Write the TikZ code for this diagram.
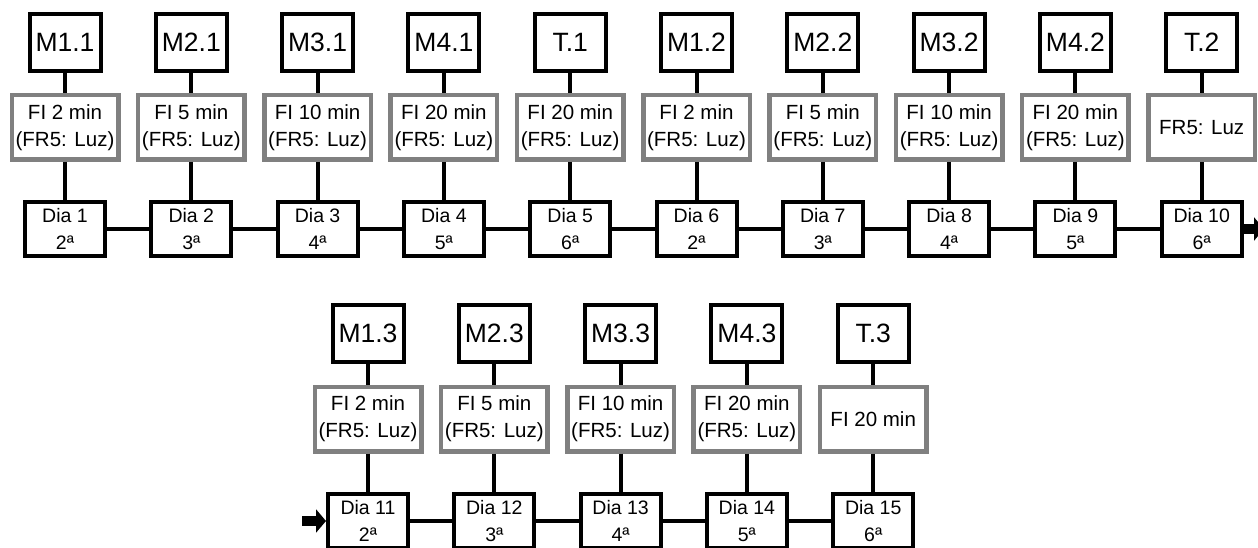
\documentclass[tikz,border=0pt]{standalone}
\usepackage{fontspec}
\setmainfont{Liberation Sans}
\usetikzlibrary{arrows.meta}
\definecolor{gborder}{RGB}{128,128,128}
\begin{document}
\begin{tikzpicture}[x=1pt,y=-1pt,
 mbox/.style={draw=black,fill=white,line width=4pt,minimum width=71pt,minimum height=57pt,inner sep=0pt,font=\fontsize{26.5}{30}\selectfont},
 gbox/.style={draw=gborder,fill=white,line width=4.5pt,minimum width=106.5pt,minimum height=64.5pt,inner sep=0pt,align=center,font=\fontsize{20.5}{27}\selectfont},
 dbox/.style={draw=black,fill=white,line width=4pt,minimum width=80pt,minimum height=54pt,inner sep=0pt,align=center,font=\fontsize{19.5}{27}\selectfont},
 conn/.style={line width=4pt},
 flow/.style={line width=10pt,-{Triangle[width=23pt,length=10pt]}}]
\useasboundingbox (0,0) rectangle (1258,548);

% ---- top row ----
\node[mbox] (m1) at (65,42.5) {M1.1};
\node[mbox] (m2) at (191.3,42.5) {M2.1};
\node[mbox] (m3) at (317.6,42.5) {M3.1};
\node[mbox] (m4) at (443.9,42.5) {M4.1};
\node[mbox] (m5) at (570.2,42.5) {T.1};
\node[mbox] (m6) at (696.5,42.5) {M1.2};
\node[mbox] (m7) at (822.8,42.5) {M2.2};
\node[mbox] (m8) at (949.1,42.5) {M3.2};
\node[mbox] (m9) at (1075.4,42.5) {M4.2};
\node[mbox] (m10) at (1201.7,42.5) {T.2};

\node[gbox] (g1) at (65,127.5) {FI 2 min\\(FR5: Luz)};
\node[gbox] (g2) at (191.3,127.5) {FI 5 min\\(FR5: Luz)};
\node[gbox] (g3) at (317.6,127.5) {FI 10 min\\(FR5: Luz)};
\node[gbox] (g4) at (443.9,127.5) {FI 20 min\\(FR5: Luz)};
\node[gbox] (g5) at (570.2,127.5) {FI 20 min\\(FR5: Luz)};
\node[gbox] (g6) at (696.5,127.5) {FI 2 min\\(FR5: Luz)};
\node[gbox] (g7) at (822.8,127.5) {FI 5 min\\(FR5: Luz)};
\node[gbox] (g8) at (949.1,127.5) {FI 10 min\\(FR5: Luz)};
\node[gbox] (g9) at (1075.4,127.5) {FI 20 min\\(FR5: Luz)};
\node[gbox] (g10) at (1201.7,127.5) {FR5: Luz};

\node[dbox] (d1) at (65,229) {Dia 1\\2ª};
\node[dbox] (d2) at (191.3,229) {Dia 2\\3ª};
\node[dbox] (d3) at (317.6,229) {Dia 3\\4ª};
\node[dbox] (d4) at (443.9,229) {Dia 4\\5ª};
\node[dbox] (d5) at (570.2,229) {Dia 5\\6ª};
\node[dbox] (d6) at (696.5,229) {Dia 6\\2ª};
\node[dbox] (d7) at (822.8,229) {Dia 7\\3ª};
\node[dbox] (d8) at (949.1,229) {Dia 8\\4ª};
\node[dbox] (d9) at (1075.4,229) {Dia 9\\5ª};
\node[dbox] (d10) at (1201.7,229) {Dia 10\\6ª};

% ---- bottom row ----
\node[mbox] (m11) at (368,333) {M1.3};
\node[mbox] (m12) at (494.3,333) {M2.3};
\node[mbox] (m13) at (620.6,333) {M3.3};
\node[mbox] (m14) at (746.9,333) {M4.3};
\node[mbox] (m15) at (873.2,333) {T.3};

\node[gbox] (g11) at (368,419) {FI 2 min\\(FR5: Luz)};
\node[gbox] (g12) at (494.3,419) {FI 5 min\\(FR5: Luz)};
\node[gbox] (g13) at (620.6,419) {FI 10 min\\(FR5: Luz)};
\node[gbox] (g14) at (746.9,419) {FI 20 min\\(FR5: Luz)};
\node[gbox] (g15) at (873.2,419) {FI 20 min};

\node[dbox] (d11) at (368,521) {Dia 11\\2ª};
\node[dbox] (d12) at (494.3,521) {Dia 12\\3ª};
\node[dbox] (d13) at (620.6,521) {Dia 13\\4ª};
\node[dbox] (d14) at (746.9,521) {Dia 14\\5ª};
\node[dbox] (d15) at (873.2,521) {Dia 15\\6ª};

% ---- connectors ----
\foreach \i in {1,...,15}{
  \draw[conn] (m\i.south) -- (g\i.north);
  \draw[conn] (g\i.south) -- (d\i.north);
}
\foreach \i/\j in {1/2,2/3,3/4,4/5,5/6,6/7,7/8,8/9,9/10,11/12,12/13,13/14,14/15}{
  \draw[conn] (d\i.east) -- (d\j.west);
}

\coordinate (outR) at (1264,229);
\coordinate (inL) at (302,521);
\draw[flow] (d10.east) -- (outR);
\draw[flow] (inL) -- (d11.west);
\end{tikzpicture}
\end{document}
